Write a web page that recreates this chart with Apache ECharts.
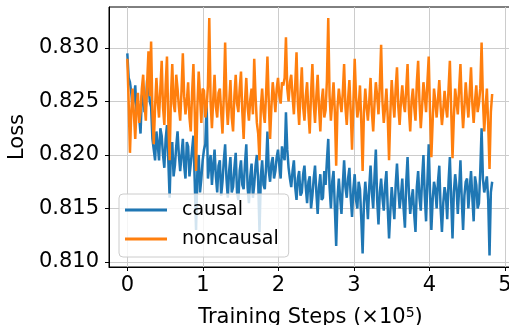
<!DOCTYPE html>
<html>
<head>
<meta charset="utf-8">
<script src="https://cdn.jsdelivr.net/npm/echarts@6/dist/echarts.min.js"></script>
<style>
  html, body { margin: 0; padding: 0; background: #fff; }
  #container { width: 509px; height: 325px; }
</style>
</head>
<body>
<div id="container"></div>
<script>
const container = document.getElementById('container');
const chartIns = echarts.init(container, undefined, { renderer: 'canvas' });

// x 轴: 训练步数 (×10^5)，每 0.0175 记录一次
const stepSize = 0.0175;
const xTicks = [0, 1, 2, 3, 4, 5];
const yTicks = [0.810, 0.815, 0.820, 0.825, 0.830];

const causal = [
  0.8295, 0.8272, 0.8268, 0.8258, 0.8245, 0.8252, 0.8265, 0.8240, 0.8248, 0.8235, 0.8220, 0.8255, 0.8262, 0.8240, 0.8245, 0.8270, 0.8268, 0.8250, 0.8245, 0.8215,
  0.8205, 0.8195, 0.8222, 0.8210, 0.8195, 0.8225, 0.8218, 0.8200, 0.8188, 0.8215, 0.8228, 0.8195, 0.8160, 0.8205, 0.8212, 0.8180, 0.8190, 0.8208, 0.8222, 0.8200,
  0.8185, 0.8200, 0.8215, 0.8190, 0.8178, 0.8212, 0.8208, 0.8180, 0.8192, 0.8205, 0.8218, 0.8175, 0.8130, 0.8185, 0.8200, 0.8165, 0.8178, 0.8195, 0.8205, 0.8210,
  0.8248, 0.8178, 0.8190, 0.8200, 0.8172, 0.8190, 0.8205, 0.8180, 0.8165, 0.8190, 0.8195, 0.8162, 0.8175, 0.8195, 0.8210, 0.8178, 0.8160, 0.8185, 0.8198, 0.8165,
  0.8170, 0.8188, 0.8202, 0.8165, 0.8158, 0.8185, 0.8195, 0.8172, 0.8168, 0.8192, 0.8210, 0.8170, 0.8155, 0.8180, 0.8192, 0.8160, 0.8172, 0.8190, 0.8200, 0.8175,
  0.8128, 0.8180, 0.8195, 0.8172, 0.8168, 0.8190, 0.8222, 0.8185, 0.8175, 0.8192, 0.8198, 0.8178, 0.8185, 0.8198, 0.8205, 0.8190, 0.8178, 0.8208, 0.8200, 0.8195,
  0.8240, 0.8205, 0.8188, 0.8178, 0.8170, 0.8185, 0.8195, 0.8170, 0.8158, 0.8178, 0.8185, 0.8162, 0.8165, 0.8182, 0.8190, 0.8170, 0.8155, 0.8175, 0.8180, 0.8150,
  0.8162, 0.8178, 0.8190, 0.8165, 0.8145, 0.8170, 0.8182, 0.8158, 0.8160, 0.8185, 0.8172, 0.8195, 0.8215, 0.8170, 0.8150, 0.8175, 0.8185, 0.8150, 0.8115, 0.8160,
  0.8178, 0.8160, 0.8145, 0.8172, 0.8195, 0.8170, 0.8160, 0.8178, 0.8188, 0.8160, 0.8142, 0.8168, 0.8182, 0.8158, 0.8150, 0.8175, 0.8168, 0.8140, 0.8108, 0.8155,
  0.8175, 0.8160, 0.8140, 0.8170, 0.8190, 0.8165, 0.8150, 0.8180, 0.8205, 0.8158, 0.8135, 0.8165, 0.8178, 0.8160, 0.8148, 0.8172, 0.8185, 0.8150, 0.8122, 0.8148,
  0.8170, 0.8155, 0.8140, 0.8172, 0.8192, 0.8168, 0.8150, 0.8162, 0.8178, 0.8150, 0.8132, 0.8175, 0.8198, 0.8165, 0.8145, 0.8158, 0.8168, 0.8145, 0.8128, 0.8170,
  0.8185, 0.8160, 0.8148, 0.8178, 0.8200, 0.8162, 0.8138, 0.8175, 0.8210, 0.8165, 0.8130, 0.8158, 0.8175, 0.8168, 0.8150, 0.8175, 0.8190, 0.8150, 0.8128, 0.8155,
  0.8170, 0.8162, 0.8140, 0.8175, 0.8198, 0.8158, 0.8122, 0.8165, 0.8182, 0.8170, 0.8145, 0.8168, 0.8195, 0.8158, 0.8130, 0.8162, 0.8175, 0.8178, 0.8150, 0.8168,
  0.8185, 0.8160, 0.8138, 0.8180, 0.8172, 0.8150, 0.8155, 0.8185, 0.8225, 0.8178, 0.8165, 0.8172, 0.8180, 0.8158, 0.8106, 0.8165, 0.8175
];

const noncausal = [
  0.8290, 0.8250, 0.8202, 0.8240, 0.8262, 0.8238, 0.8215, 0.8245, 0.8258, 0.8230, 0.8240, 0.8262, 0.8275, 0.8248, 0.8232, 0.8268, 0.8297, 0.8255, 0.8306, 0.8240,
  0.8210, 0.8245, 0.8272, 0.8250, 0.8235, 0.8262, 0.8288, 0.8245, 0.8228, 0.8265, 0.8292, 0.8232, 0.8195, 0.8255, 0.8285, 0.8248, 0.8240, 0.8275, 0.8262, 0.8245,
  0.8232, 0.8260, 0.8295, 0.8255, 0.8238, 0.8250, 0.8268, 0.8235, 0.8222, 0.8258, 0.8285, 0.8240, 0.8185, 0.8245, 0.8278, 0.8255, 0.8230, 0.8262, 0.8260, 0.8235,
  0.8245, 0.8265, 0.8328, 0.8250, 0.8225, 0.8252, 0.8275, 0.8245, 0.8235, 0.8258, 0.8262, 0.8240, 0.8220, 0.8255, 0.8305, 0.8250, 0.8228, 0.8248, 0.8270, 0.8235,
  0.8222, 0.8255, 0.8275, 0.8248, 0.8240, 0.8262, 0.8278, 0.8240, 0.8215, 0.8250, 0.8272, 0.8245, 0.8232, 0.8252, 0.8262, 0.8238, 0.8290, 0.8255, 0.8230, 0.8220,
  0.8195, 0.8245, 0.8262, 0.8240, 0.8230, 0.8258, 0.8292, 0.8250, 0.8215, 0.8245, 0.8268, 0.8255, 0.8240, 0.8262, 0.8272, 0.8255, 0.8248, 0.8268, 0.8265, 0.8272,
  0.8310, 0.8262, 0.8250, 0.8268, 0.8275, 0.8255, 0.8238, 0.8265, 0.8296, 0.8248, 0.8228, 0.8258, 0.8282, 0.8245, 0.8232, 0.8255, 0.8268, 0.8240, 0.8220, 0.8258,
  0.8285, 0.8248, 0.8230, 0.8255, 0.8275, 0.8245, 0.8222, 0.8250, 0.8262, 0.8235, 0.8242, 0.8270, 0.8328, 0.8255, 0.8232, 0.8250, 0.8268, 0.8240, 0.8190, 0.8245,
  0.8262, 0.8250, 0.8240, 0.8258, 0.8285, 0.8245, 0.8228, 0.8252, 0.8270, 0.8240, 0.8205, 0.8248, 0.8290, 0.8255, 0.8235, 0.8245, 0.8265, 0.8230, 0.8185, 0.8240,
  0.8262, 0.8245, 0.8232, 0.8250, 0.8272, 0.8240, 0.8222, 0.8248, 0.8268, 0.8255, 0.8238, 0.8265, 0.8303, 0.8250, 0.8230, 0.8245, 0.8262, 0.8235, 0.8195, 0.8240,
  0.8270, 0.8250, 0.8235, 0.8262, 0.8282, 0.8245, 0.8228, 0.8250, 0.8265, 0.8248, 0.8240, 0.8262, 0.8285, 0.8242, 0.8222, 0.8250, 0.8262, 0.8245, 0.8232, 0.8268,
  0.8288, 0.8250, 0.8225, 0.8245, 0.8268, 0.8255, 0.8240, 0.8268, 0.8292, 0.8240, 0.8198, 0.8232, 0.8262, 0.8250, 0.8235, 0.8252, 0.8270, 0.8245, 0.8228, 0.8242,
  0.8260, 0.8245, 0.8235, 0.8262, 0.8288, 0.8242, 0.8197, 0.8235, 0.8262, 0.8250, 0.8238, 0.8262, 0.8285, 0.8248, 0.8225, 0.8245, 0.8268, 0.8250, 0.8235, 0.8258,
  0.8282, 0.8248, 0.8230, 0.8250, 0.8265, 0.8240, 0.8248, 0.8262, 0.8305, 0.8252, 0.8222, 0.8245, 0.8262, 0.8228, 0.8187, 0.8240, 0.8257
];

const toPairs = arr => arr.map((v, i) => [+(i * stepSize).toFixed(4), v]);

const font = 'DejaVu Sans';

const option = {
  animation: false,
  textStyle: { fontFamily: font },
  grid: {
    left: 109, top: 7, width: 403, height: 260,
    outerBoundsMode: 'none',
    containLabel: false,
    show: true, borderColor: '#000', borderWidth: 1, backgroundColor: 'transparent'
  },
  legend: {
    orient: 'vertical',
    left: 119, top: 194,
    padding: [6, 10, 8, 6],
    itemGap: 9,
    itemWidth: 42, itemHeight: 3,
    icon: 'rect',
    backgroundColor: 'rgba(255,255,255,0.8)',
    borderColor: '#cccccc', borderWidth: 1, borderRadius: 4,
    textStyle: { fontFamily: font, fontSize: 19, color: '#000', lineHeight: 20, padding: [0, 0, 0, 10] },
    data: ['causal', 'noncausal']
  },
  xAxis: {
    type: 'value',
    min: -0.2425, max: 5.0925,
    name: 'Training Steps (×10{sup|5})',
    nameLocation: 'middle', nameGap: 39,
    nameTextStyle: {
      fontFamily: font, fontSize: 21, color: '#000',
      rich: { sup: { fontFamily: font, fontSize: 14, color: '#000', padding: [0, 0, 10, 0] } }
    },
    axisLine: { show: true, onZero: false, lineStyle: { color: '#000', width: 1 } },
    axisTick: { show: true, length: 4, lineStyle: { color: '#000' }, customValues: xTicks },
    axisLabel: {
      fontFamily: font, fontSize: 21, color: '#000', margin: 8, customValues: xTicks,
      alignMinLabel: 'center', alignMaxLabel: 'center'
    },
    splitLine: { show: true, lineStyle: { color: '#cccccc', width: 1 } }
  },
  yAxis: {
    type: 'value',
    min: 0.80953, max: 0.83383,
    name: 'Loss',
    nameLocation: 'middle', nameGap: 75, nameRotate: 90,
    nameTextStyle: { fontFamily: font, fontSize: 21, color: '#000' },
    axisLine: { show: true, onZero: false, lineStyle: { color: '#000', width: 1 } },
    axisTick: { show: true, length: 4, lineStyle: { color: '#000' }, customValues: yTicks },
    axisLabel: {
      fontFamily: font, fontSize: 21, color: '#000', margin: 10, customValues: yTicks,
      formatter: v => v.toFixed(3)
    },
    splitLine: { show: true, lineStyle: { color: '#cccccc', width: 1 } }
  },
  series: [
    {
      name: 'causal', type: 'line', showSymbol: false,
      color: '#1f77b4', lineStyle: { width: 2.5, color: '#1f77b4' },
      data: toPairs(causal)
    },
    {
      name: 'noncausal', type: 'line', showSymbol: false,
      color: '#ff7f0e', lineStyle: { width: 2.5, color: '#ff7f0e' },
      data: toPairs(noncausal)
    }
  ]
};

chartIns.setOption(option);
</script>
</body>
</html>
